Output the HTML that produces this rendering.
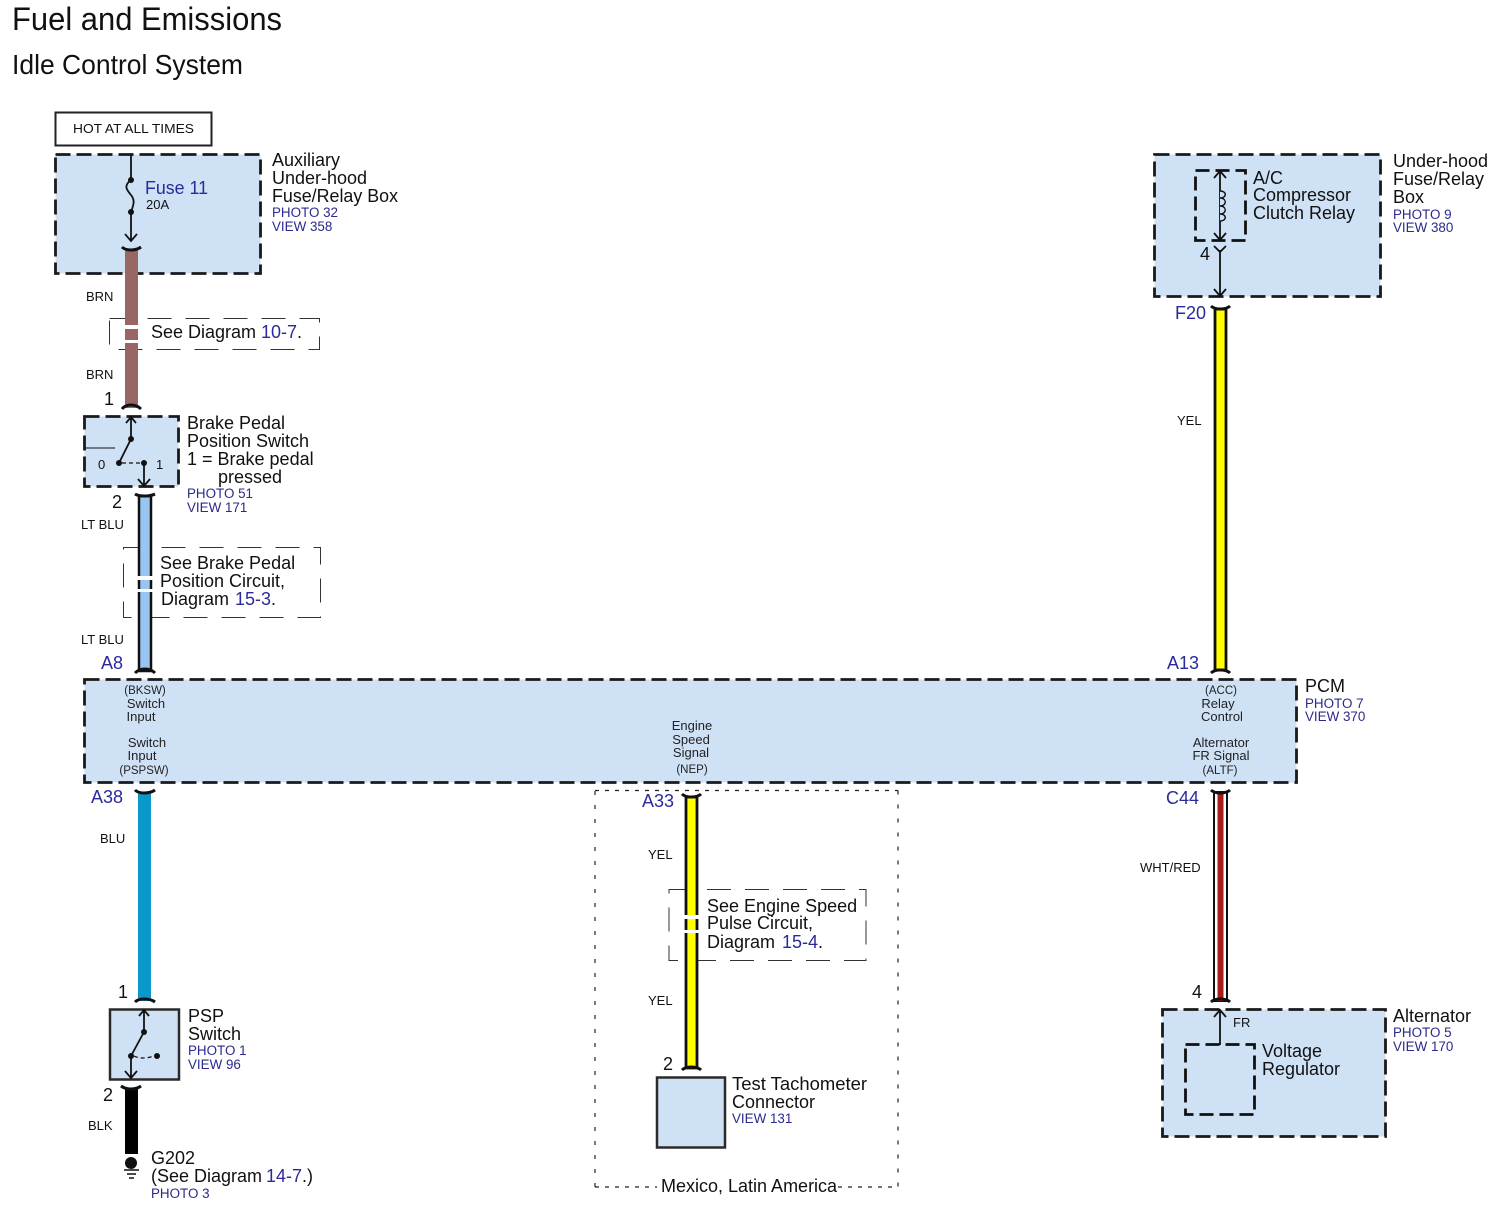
<!DOCTYPE html>
<html><head><meta charset="utf-8"><style>
html,body{margin:0;padding:0;background:#fff}
svg{display:block}
text{font-family:"Liberation Sans",Arial,sans-serif;fill:#111}
.l{font-size:18px}
.s{font-size:13px}
.p{font-size:13.4px;fill:#2a2a8c}
.c{font-size:18px;fill:#2a2a9c}
.t{font-size:13px;fill:#222;text-anchor:middle}
.u{font-size:11.5px;fill:#222;text-anchor:middle}
.box{fill:#cfe1f5;stroke:#1a1a1a;stroke-width:2.8;stroke-dasharray:15 6}
.solid{fill:#cfe1f5;stroke:#2a2a2a;stroke-width:2.5}
.see{fill:#fff;stroke:#333;stroke-width:1;stroke-dasharray:24 14}
.ln{fill:none;stroke:#111;stroke-width:1.8}
.cap{fill:none;stroke:#111;stroke-width:3}
.d{fill:#111}
</style></head><body>
<svg width="1494" height="1207" viewBox="0 0 1494 1207" xmlns="http://www.w3.org/2000/svg">
<rect width="1494" height="1207" fill="#fff"/>

<text x="12" y="30" font-size="32" textLength="270" lengthAdjust="spacingAndGlyphs">Fuel and Emissions</text>
<text x="12" y="74" font-size="27.5" textLength="231" lengthAdjust="spacingAndGlyphs">Idle Control System</text>

<!-- HOT box -->
<rect x="55.500" y="112.500" width="156" height="33" fill="#fff" stroke="#222" stroke-width="2"/>
<text x="73" y="133" font-size="13" textLength="121" lengthAdjust="spacingAndGlyphs">HOT AT ALL TIMES</text>

<!-- Fuse box -->
<rect class="box" x="55.500" y="154.500" width="205" height="119"/>
<path class="ln" d="M131 155V180"/><circle class="d" cx="131" cy="180" r="3"/>
<path class="ln" d="M131 180c-8 6-4 10 0 15c4 5 3 9 0 17"/><circle class="d" cx="131" cy="212" r="3"/>
<path class="ln" d="M131 212V240M125 234L131 241L137 234"/>
<text x="145" y="194" font-size="18" style="fill:#2a2a9c" textLength="63" lengthAdjust="spacingAndGlyphs">Fuse 11</text>
<text x="146" y="209" class="s">20A</text>
<text x="272" y="166" class="l">Auxiliary</text>
<text x="272" y="184" class="l">Under-hood</text>
<text x="272" y="202" class="l" textLength="126" lengthAdjust="spacingAndGlyphs">Fuse/Relay Box</text>
<text x="272" y="217" class="p">PHOTO 32</text>
<text x="272" y="231" class="p">VIEW 358</text>

<!-- See Diagram 10-7 box -->
<rect class="see" x="109.500" y="318.500" width="210" height="31"/>

<!-- Brown wire -->
<rect x="125" y="250" width="13" height="158" fill="#996666"/>
<path class="cap" d="M122 247Q125 250 131 250Q137 250 141 247"/>
<path class="cap" d="M122 409Q125 405 131 405Q137 405 141 409"/>
<text x="86" y="301" class="s">BRN</text>
<text x="86" y="379" class="s">BRN</text>
<text x="104" y="405" font-size="18">1</text>
<rect x="124" y="325" width="15" height="4" fill="#fff"/>
<rect x="124" y="340" width="15" height="3" fill="#fff"/>
<text x="151" y="338" class="l">See Diagram <tspan style="fill:#2a2a9c" x="261">10-7</tspan><tspan>.</tspan></text>

<!-- Brake pedal switch -->
<rect class="box" x="84.500" y="416.500" width="94" height="70"/>
<path class="ln" d="M85 448H115" style="stroke-width:1"/>
<path class="ln" d="M131 417V439M126 423L131 417L136 423"/><circle class="d" cx="131" cy="439" r="3"/>
<path class="ln" d="M131 439L119 463"/><circle class="d" cx="119" cy="463" r="3"/>
<path class="ln" d="M122 463H142" style="stroke-dasharray:4 3;stroke-width:1.200"/><circle class="d" cx="144" cy="463" r="3"/>
<path class="ln" d="M144 463V485M138 479L144 486L150 479"/>
<text x="98" y="469" font-size="13">0</text>
<text x="156" y="469" font-size="13">1</text>
<text x="187" y="429" class="l">Brake Pedal</text>
<text x="187" y="447" class="l">Position Switch</text>
<text x="187" y="465" class="l">1 = Brake pedal</text>
<text x="218" y="483" class="l">pressed</text>
<text x="187" y="498" class="p">PHOTO 51</text>
<text x="187" y="512" class="p">VIEW 171</text>
<text x="112" y="508" font-size="18">2</text>

<!-- LT BLU wire -->
<rect class="see" x="123.500" y="547.500" width="197" height="70" style="fill:none"/>
<rect x="139" y="496" width="12" height="175" fill="#99c5f0" stroke="#111" stroke-width="2.500"/>
<path class="cap" d="M135 494Q138 496 145 496Q151 496 155 494"/>
<path class="cap" d="M135 673Q139 669 145 669Q151 669 155 673"/>
<text x="81" y="529" class="s">LT BLU</text>
<text x="81" y="644" class="s">LT BLU</text>
<text x="101" y="669" class="c">A8</text>
<rect x="137" y="576" width="16" height="4" fill="#fff"/>
<rect x="137" y="589" width="16" height="3" fill="#fff"/>
<text x="160" y="569" class="l">See Brake Pedal</text>
<text x="160" y="587" class="l">Position Circuit,</text>
<text x="161" y="605" class="l">Diagram <tspan style="fill:#2a2a9c" x="235">15-3</tspan><tspan>.</tspan></text>

<!-- PCM -->
<rect class="box" x="84.500" y="679.500" width="1212" height="103"/>
<text class="u" x="145" y="694">(BKSW)</text>
<text class="t" x="146" y="708">Switch</text>
<text class="t" x="141" y="721">Input</text>
<text class="t" x="147" y="747">Switch</text>
<text class="t" x="142" y="760">Input</text>
<text class="u" x="144" y="774">(PSPSW)</text>
<text class="t" x="692" y="730">Engine</text>
<text class="t" x="691" y="744">Speed</text>
<text class="t" x="691" y="757">Signal</text>
<text class="u" x="692" y="773">(NEP)</text>
<text class="u" x="1221" y="694">(ACC)</text>
<text class="t" x="1218" y="708">Relay</text>
<text class="t" x="1222" y="721">Control</text>
<text class="t" x="1221" y="747">Alternator</text>
<text class="t" x="1221" y="760">FR Signal</text>
<text class="u" x="1220" y="774">(ALTF)</text>
<text x="1305" y="692" class="l">PCM</text>
<text x="1305" y="708" class="p">PHOTO 7</text>
<text x="1305" y="721" class="p">VIEW 370</text>

<!-- BLU wire -->
<rect x="138" y="792" width="13" height="209" fill="#0a97c9"/>
<path class="cap" d="M135 790Q138 793 144 793Q151 793 155 790"/>
<path class="cap" d="M135 1002Q138 999 144 999Q151 999 155 1002"/>
<text x="91" y="803" class="c">A38</text>
<text x="100" y="843" class="s">BLU</text>
<text x="118" y="998" font-size="18">1</text>

<!-- PSP -->
<rect class="solid" x="110" y="1009.500" width="69" height="70"/>
<path class="ln" d="M144 1011V1032M139 1016L144 1010L149 1016"/><circle class="d" cx="144" cy="1032" r="3"/>
<path class="ln" d="M144 1032L131 1056"/><circle class="d" cx="131" cy="1056" r="3"/>
<path class="ln" d="M134 1056Q142 1060 154 1056" style="stroke-dasharray:4 3;stroke-width:1.200"/><circle class="d" cx="157" cy="1056" r="3"/>
<path class="ln" d="M131 1056V1077M125 1071L131 1078L137 1071"/>
<text x="188" y="1022" class="l">PSP</text>
<text x="188" y="1040" class="l">Switch</text>
<text x="188" y="1055" class="p">PHOTO 1</text>
<text x="188" y="1069" class="p">VIEW 96</text>
<text x="103" y="1101" font-size="18">2</text>

<!-- BLK wire -->
<rect x="125" y="1088" width="13" height="66" fill="#000"/>
<path class="cap" d="M121 1086Q125 1089 131 1089Q137 1089 141 1086"/>
<text x="88" y="1130" class="s">BLK</text>
<circle class="d" cx="131" cy="1163" r="6"/>
<path class="ln" style="stroke-width:1.500" d="M124 1170H139M127 1174H136M129 1178H134"/>
<text x="151" y="1164" class="l">G202</text>
<text x="151" y="1182" class="l">(See Diagram <tspan style="fill:#2a2a9c" x="266">14-7</tspan><tspan>.)</tspan></text>
<text x="151" y="1198" class="p">PHOTO 3</text>

<!-- Mexico dashed box -->
<path d="M595 1187V790.500M898 790.500V1187" fill="none" stroke="#222" stroke-width="1.200" stroke-dasharray="4 10"/>
<path d="M595 790.500H898M595 1187H657M838 1187H898" fill="none" stroke="#222" stroke-width="1.200" stroke-dasharray="4 6"/>
<text x="661" y="1192" class="l">Mexico, Latin America</text>

<!-- Center yellow wire -->
<rect class="see" x="669" y="889.500" width="197" height="71" style="fill:none"/>
<rect x="686" y="797" width="11" height="271" fill="#ffff00" stroke="#111" stroke-width="2.800"/>
<path class="cap" d="M682 794Q685 797 691 797Q698 797 701 794"/>
<path class="cap" d="M682 1070Q685 1067 691 1067Q698 1067 701 1070"/>
<text x="642" y="807" class="c">A33</text>
<text x="648" y="859" class="s">YEL</text>
<text x="648" y="1005" class="s">YEL</text>
<rect x="684" y="915" width="15" height="4" fill="#fff"/>
<rect x="684" y="930" width="15" height="3" fill="#fff"/>
<text x="707" y="912" class="l">See Engine Speed</text>
<text x="707" y="929" class="l">Pulse Circuit,</text>
<text x="707" y="948" class="l">Diagram <tspan style="fill:#2a2a9c" x="782">15-4</tspan><tspan>.</tspan></text>
<text x="663" y="1070" font-size="18">2</text>

<!-- Test tach -->
<rect class="solid" x="657" y="1077.500" width="68" height="70"/>
<text x="732" y="1090" class="l" textLength="135" lengthAdjust="spacingAndGlyphs">Test Tachometer</text>
<text x="732" y="1108" class="l">Connector</text>
<text x="732" y="1123" class="p">VIEW 131</text>

<!-- Under-hood box -->
<rect class="box" x="1154.500" y="154.500" width="226" height="142"/>
<rect x="1195.500" y="170.500" width="50" height="70" fill="none" stroke="#111" stroke-width="2.800" stroke-dasharray="14 6"/>
<path class="ln" d="M1220 172V240M1214 178L1220 171L1226 178M1214 233L1220 240L1226 233"/>
<path d="M1220 191c7 0 7 7 0 7c7 0 7 8 0 8c7 0 7 8 0 8c7 0 7 7 0 7" fill="#cfe1f5" stroke="#111" stroke-width="1.400"/>
<path class="ln" d="M1220 250V296M1214 246L1220 252L1226 246M1214 289L1220 296L1226 289"/>
<text x="1200" y="260" font-size="18">4</text>
<text x="1253" y="184" class="l">A/C</text>
<text x="1253" y="201" class="l">Compressor</text>
<text x="1253" y="219" class="l">Clutch Relay</text>
<text x="1393" y="167" class="l">Under-hood</text>
<text x="1393" y="185" class="l">Fuse/Relay</text>
<text x="1393" y="203" class="l">Box</text>
<text x="1393" y="219" class="p">PHOTO 9</text>
<text x="1393" y="232" class="p">VIEW 380</text>

<!-- Right yellow wire -->
<rect x="1215" y="309" width="11" height="361" fill="#ffff00" stroke="#111" stroke-width="2.800"/>
<path class="cap" d="M1211 306Q1214 309 1220 309Q1227 309 1230 306"/>
<path class="cap" d="M1211 673Q1214 670 1220 670Q1227 670 1230 673"/>
<text x="1175" y="319" class="c">F20</text>
<text x="1177" y="425" class="s">YEL</text>
<text x="1167" y="669" class="c">A13</text>

<!-- WHT/RED -->
<rect x="1214" y="792" width="13" height="209" fill="#fff" stroke="#111" stroke-width="2"/>
<rect x="1217.500" y="792" width="6" height="209" fill="#a81c1c"/>
<path class="cap" d="M1211 790Q1214 793 1220 793Q1227 793 1230 790"/>
<path class="cap" d="M1211 1002Q1214 999 1220 999Q1227 999 1230 1002"/>
<text x="1166" y="804" class="c">C44</text>
<text x="1140" y="872" class="s">WHT/RED</text>
<text x="1192" y="998" font-size="18">4</text>

<!-- Alternator -->
<rect class="box" x="1162.500" y="1009.500" width="223" height="127"/>
<rect x="1185.500" y="1044.500" width="69" height="70" fill="none" stroke="#111" stroke-width="2.800" stroke-dasharray="14 6"/>
<path class="ln" d="M1220 1045V1011M1214 1017L1220 1010L1226 1017"/>
<text x="1233" y="1027" class="s">FR</text>
<text x="1262" y="1057" class="l">Voltage</text>
<text x="1262" y="1075" class="l">Regulator</text>
<text x="1393" y="1022" class="l">Alternator</text>
<text x="1393" y="1037" class="p">PHOTO 5</text>
<text x="1393" y="1051" class="p">VIEW 170</text>
</svg>
</body></html>
